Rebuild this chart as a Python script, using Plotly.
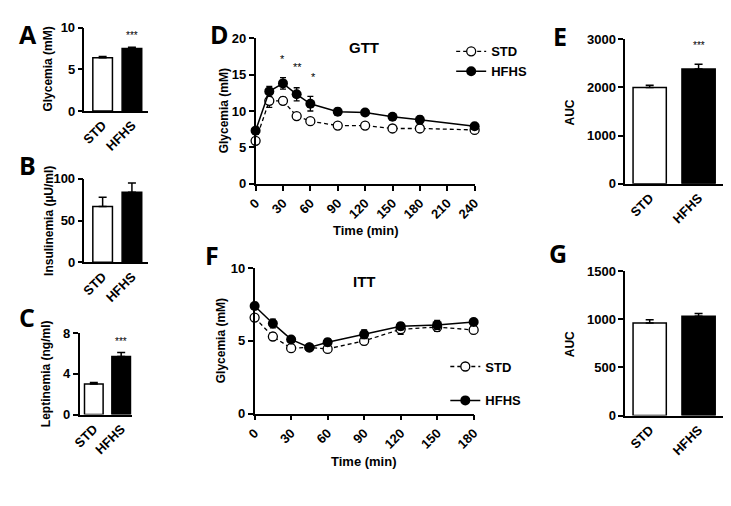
import plotly.graph_objects as go

# page body has an 8px margin, so the figure is made 8px smaller on each side
VIEW_W, VIEW_H = 731, 506
OFF = 8
W, H = VIEW_W - OFF, VIEW_H - OFF
FONT = "Liberation Sans"

groups = ["STD", "HFHS"]

# panel A-C, E, G: bar means and SEM
glycemia_mean = [6.4, 7.5]
glycemia_err = [0.15, 0.15]
insulin_mean = [67, 84]
insulin_err = [11, 11]
leptin_mean = [3.0, 5.7]
leptin_err = [0.15, 0.4]
gtt_auc_mean = [2000, 2380]
gtt_auc_err = [45, 100]
itt_auc_mean = [960, 1030]
itt_auc_err = [35, 30]

# panel D: GTT
gtt_time = [0, 15, 30, 45, 60, 90, 120, 150, 180, 240]
gtt_std = [5.9, 11.4, 11.4, 9.3, 8.6, 8.0, 8.0, 7.6, 7.6, 7.4]
gtt_std_err = [0.3, 0.9, 0.5, 0.3, 0.2, 0.2, 0.2, 0.4, 0.3, 0.2]
gtt_hfhs = [7.3, 12.7, 13.8, 12.3, 11.0, 9.9, 9.8, 9.2, 8.8, 7.9]
gtt_hfhs_err = [0.5, 0.7, 0.8, 0.9, 1.0, 0.5, 0.4, 0.3, 0.5, 0.3]
gtt_ticks = [0, 30, 60, 90, 120, 150, 180, 210, 240]
gtt_star_x = [30, 46, 63]
gtt_star_y = [17.1, 16.0, 14.7]
gtt_star_txt = ["*", "**", "*"]

# panel F: ITT
itt_time = [0, 15, 30, 45, 60, 90, 120, 150, 180]
itt_std = [6.6, 5.3, 4.5, 4.55, 4.45, 5.0, 5.8, 5.95, 5.75]
itt_std_err = [0.2, 0.25, 0.15, 0.1, 0.15, 0.25, 0.35, 0.3, 0.25]
itt_hfhs = [7.4, 6.2, 5.1, 4.55, 4.9, 5.45, 6.0, 6.1, 6.3]
itt_hfhs_err = [0.25, 0.3, 0.15, 0.1, 0.25, 0.3, 0.25, 0.3, 0.2]
itt_ticks = [0, 30, 60, 90, 120, 150, 180]


def px_x(p):
    return (p - OFF) / W


def px_y(p):
    return 1 - (p - OFF) / H


def xd(a, b):
    return [px_x(a), px_x(b)]


def yd(top, bottom):
    return [px_y(bottom), px_y(top)]


def bold(vals):
    return [f"<b>{v}</b>" for v in vals]


def paper_text(text, px, py, size, angle=0, family=FONT, xanchor="center", yanchor="middle"):
    return dict(text=f"<b>{text}</b>", x=px_x(px), y=px_y(py), xref="paper", yref="paper",
                xanchor=xanchor, yanchor=yanchor, textangle=angle, showarrow=False,
                font=dict(family=family, size=size, color="black"))


fig = go.Figure()

axis_style = dict(showline=True, linecolor="black", linewidth=1.5, showgrid=False,
                  zeroline=False, ticks="outside", ticklen=5, tickwidth=1.5,
                  tickcolor="black", tickfont=dict(family=FONT, size=13, color="black"))

# bar panels
bar_panels = [
    (1, glycemia_mean, glycemia_err, (77, 142), (21, 107), [0, 10], [0, 5, 10],
     [-0.62, 1.55], 0.67, "Glycemia (mM)", (40, 64), 9.1),
    (2, insulin_mean, insulin_err, (77, 142), (177, 263), [0, 100], [0, 50, 100],
     [-0.62, 1.55], 0.67, "Insulinemia (µU/ml)", (40, 220), None),
    (3, leptin_mean, leptin_err, (72, 126), (336, 420), [0, 8], [0, 4, 8],
     [-0.52, 1.41], 0.68, "Leptinemia (ng/ml)", (38, 378), 7.2),
    (5, gtt_auc_mean, gtt_auc_err, (630, 730), (33, 182), [0, 3000], [0, 1000, 2000, 3000],
     [-0.5, 1.5], 0.68, "AUC", (573, 108), 2880),
    (7, itt_auc_mean, itt_auc_err, (630, 730), (272, 421), [0, 1500], [0, 500, 1000, 1500],
     [-0.5, 1.5], 0.68, "AUC", (573, 347), None),
]

annotations = []

for idx, means, errs, xdom, ydom, yr, yt, xr, bw, title, tpos, star in bar_panels:
    xa = "x" if idx == 1 else f"x{idx}"
    ya = "y" if idx == 1 else f"y{idx}"
    fig.add_trace(go.Bar(
        x=groups, y=means, width=bw, xaxis=xa, yaxis=ya,
        marker=dict(color=["white", "black"], line=dict(color="black", width=1.5)),
        error_y=dict(type="data", array=errs, arrayminus=[0, 0], symmetric=False,
                     color="black", thickness=1.5, width=4),
        showlegend=False,
    ))
    sfx = "" if idx == 1 else str(idx)
    fig.layout["xaxis" + sfx] = dict(axis_style, domain=xd(*xdom), anchor=ya, range=xr,
                                     ticks="", type="category", tickangle=-45,
                                     tickvals=groups, ticktext=bold(groups))
    fig.layout["yaxis" + sfx] = dict(axis_style, domain=yd(*ydom), anchor=xa, range=yr,
                                     tickvals=yt, ticktext=bold(yt))
    annotations.append(paper_text(title, tpos[0], tpos[1], 12, angle=-90))
    if star is not None:
        annotations.append(dict(text="***", x="HFHS", y=star, xref=xa, yref=ya,
                                showarrow=False, yanchor="middle",
                                font=dict(family=FONT, size=10, color="black")))

# line panels
line_panels = [
    (4, gtt_time, gtt_std, gtt_std_err, gtt_hfhs, gtt_hfhs_err, (252, 476), (32, 182),
     [0, 20], [0, 5, 10, 15, 20], [0, 240], gtt_ticks, "GTT", (363, 42), (220, 107),
     (365, 230), "legend"),
    (6, itt_time, itt_std, itt_std_err, itt_hfhs, itt_hfhs_err, (251, 475), (269, 419),
     [0, 10], [0, 5, 10], [0, 180], itt_ticks, "ITT", (363, 283), (217, 344),
     (363, 468), "legend2"),
]

for (idx, t, s, se, h, he, xdom, ydom, yr, yt, xr, xt, name, npos, tpos, xtpos,
     lg) in line_panels:
    xa, ya = f"x{idx}", f"y{idx}"
    fig.add_trace(go.Scatter(
        x=t, y=s, xaxis=xa, yaxis=ya, mode="lines+markers", name="<b>STD</b>", legend=lg,
        legendgroup=lg + "a", cliponaxis=False,
        line=dict(color="black", width=1.3, dash="4px,3px"),
        marker=dict(symbol="circle", size=9, color="white", line=dict(color="black", width=1.3)),
        error_y=dict(type="data", array=se, color="black", thickness=1.3, width=3),
    ))
    fig.add_trace(go.Scatter(
        x=t, y=h, xaxis=xa, yaxis=ya, mode="lines+markers", name="<b>HFHS</b>", legend=lg,
        legendgroup=lg + "b", cliponaxis=False,
        line=dict(color="black", width=1.5),
        marker=dict(symbol="circle", size=10, color="black"),
        error_y=dict(type="data", array=he, color="black", thickness=1.3, width=3),
    ))
    fig.layout[f"xaxis{idx}"] = dict(axis_style, domain=xd(*xdom), anchor=ya, range=xr,
                                     tickvals=xt, ticktext=bold(xt), tickangle=-45)
    fig.layout[f"yaxis{idx}"] = dict(axis_style, domain=yd(*ydom), anchor=xa, range=yr,
                                     tickvals=yt, ticktext=bold(yt))
    annotations.append(paper_text(name, npos[0], npos[1], 15))
    annotations.append(paper_text("Glycemia (mM)", tpos[0], tpos[1], 12, angle=-90))
    annotations.append(paper_text("Time (min)", xtpos[0], xtpos[1], 13))

for sx, sy, st in zip(gtt_star_x, gtt_star_y, gtt_star_txt):
    annotations.append(dict(text=st, x=sx, y=sy, xref="x4", yref="y4", showarrow=False,
                            font=dict(family=FONT, size=11, color="black")))

# panel letters: left/top edge of their text box
letters = [("A", 8, 8), ("B", 8, 143), ("C", 8, 300), ("D", 203, 8),
           ("E", 554, 10), ("F", 198, 236), ("G", 550, 234)]
for txt, lx, ly in letters:
    annotations.append(paper_text(txt, lx, ly, 25, family="Open Sans",
                                  xanchor="left", yanchor="top"))

legend_font = dict(family=FONT, size=13, color="black")
fig.update_layout(
    width=W, height=H,
    margin=dict(l=0, r=0, t=0, b=0),
    plot_bgcolor="white", paper_bgcolor="white",
    annotations=annotations,
    legend=dict(x=px_x(452), y=px_y(30), xanchor="left", yanchor="top", font=legend_font,
                bgcolor="rgba(0,0,0,0)", tracegroupgap=0, itemwidth=30),
    legend2=dict(x=px_x(446), y=px_y(355), xanchor="left", yanchor="top", font=legend_font,
                 bgcolor="rgba(0,0,0,0)", tracegroupgap=14, itemwidth=30),
)

fig.write_html("out.html")
